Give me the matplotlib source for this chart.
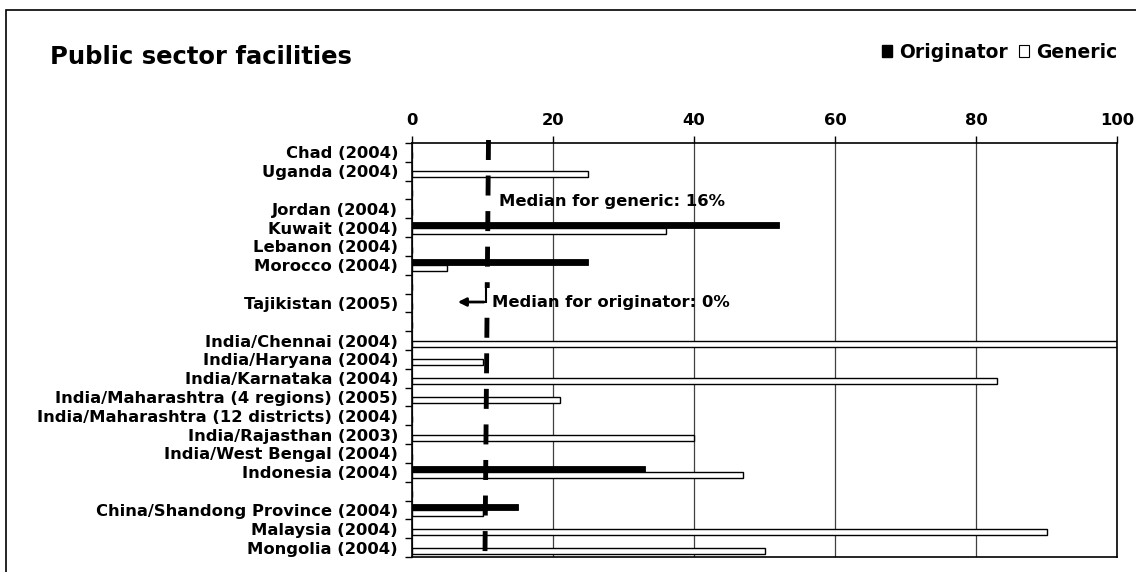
import numpy as np
import matplotlib
matplotlib.use("Agg")
import matplotlib.pyplot as plt
from matplotlib.patches import Rectangle, Patch

# Data (percent of facilities), empty rows are spacers

labels = ["Chad (2004)", "Uganda (2004)", "",
          "Jordan (2004)", "Kuwait (2004)", "Lebanon (2004)", "Morocco (2004)", "",
          "Tajikistan (2005)", "",
          "India/Chennai (2004)", "India/Haryana (2004)", "India/Karnataka (2004)",
          "India/Maharashtra (4 regions) (2005)", "India/Maharashtra (12 districts) (2004)",
          "India/Rajasthan (2003)", "India/West Bengal (2004)", "Indonesia (2004)", "",
          "China/Shandong Province (2004)", "Malaysia (2004)", "Mongolia (2004)"]

originator = [0, 0, 0, 0, 52, 0, 25, 0, 0, 0, 0, 0, 0, 0, 0, 0, 0, 33, 0, 15, 0, 0]
generic = [0, 25, 0, 0, 36, 0, 5, 0, 0, 0, 100, 10, 83, 21, 0, 40, 0, 47, 0, 10, 90, 50]

xticks = [0, 20, 40, 60, 80, 100]

plt.rcParams['font.family'] = 'DejaVu Sans'
plt.rcParams['font.weight'] = 'bold'
plt.rcParams['lines.scale_dashes'] = False

fs = 11.8

fig = plt.figure(figsize=(11.36, 5.72), dpi=100)
ax = fig.add_axes([412 / 1136, 1 - 557 / 572, 705 / 1136, 414 / 572])

y = np.arange(len(labels))
h = 0.32

ax.barh(y - h / 2, originator, height=h, color='black', edgecolor='black', linewidth=0.6, zorder=3)
ax.barh(y + h / 2, generic, height=h, color='white', edgecolor='black', linewidth=1.0, zorder=3)

ax.set_xlim(0, 100)
ax.set_ylim(len(labels) - 0.5, -0.5)

# x axis on top
ax.xaxis.tick_top()
ax.set_xticks(xticks)
ax.set_xticklabels([str(t) for t in xticks], fontsize=fs, fontweight='bold')
ax.tick_params(axis='x', direction='out', length=5, width=1, pad=6)
ax.grid(axis='x', color='#404040', linewidth=0.9, zorder=1)

# category labels at row centres, tick marks at row boundaries
ax.set_yticks(y)
ax.set_yticklabels(labels, fontsize=fs, fontweight='bold')
ax.set_yticks(np.arange(len(labels) + 1) - 0.5, minor=True)
ax.tick_params(axis='y', which='major', length=0, pad=10)
ax.tick_params(axis='y', which='minor', length=5, width=1, direction='out')

for s in ax.spines.values():
    s.set_linewidth(1.2)
    s.set_zorder(4)

# median line (dashed, slightly slanted like the original drawing)
ax.plot([10.85, 10.35], [-0.66, 21.5], color='black', linewidth=3.5,
        dashes=(14.4, 11.2), zorder=5, clip_on=False, solid_capstyle='butt',
        dash_capstyle='butt')
ax.add_patch(Rectangle((9.6, 7.2), 2.2, 1.55, facecolor='white', edgecolor='none', zorder=6))

ax.text(12.3, 2.63, "Median for generic: 16%", fontsize=fs, fontweight='bold',
        va='center', ha='left', zorder=7)
ax.text(11.35, 7.95, "Median for originator: 0%", fontsize=fs, fontweight='bold',
        va='center', ha='left', zorder=7)

# bent arrow pointing left
ax.plot([10.5, 10.5], [6.99, 7.95], color='black', linewidth=1.5, zorder=7)
ax.annotate("", xy=(6.1, 7.95), xytext=(10.6, 7.95),
            arrowprops=dict(arrowstyle='-|>', color='black', lw=2, mutation_scale=12),
            zorder=7)

# title and legend
fig.text(50 / 1136, 1 - 57 / 572, "Public sector facilities", fontsize=17.5,
         fontweight='bold', va='center', ha='left')

handles = [Patch(facecolor='black', edgecolor='black'),
           Patch(facecolor='white', edgecolor='black', linewidth=0.8)]
fig.legend(handles, ["Originator", "Generic"], loc='center right',
           bbox_to_anchor=(1134 / 1136, 1 - 52 / 572), ncol=2, frameon=False,
           handlelength=0.55, handleheight=0.55, handletextpad=0.35, columnspacing=0.6,
           prop={'size': 13.5, 'weight': 'bold'})

# outer frame of the chart
fig.patches.append(Rectangle((6 / 1136, -0.1), 2, 1.1 - 10 / 572, transform=fig.transFigure,
                             fill=False, edgecolor='black', linewidth=1.2))

fig.savefig("out.png", dpi=100)
